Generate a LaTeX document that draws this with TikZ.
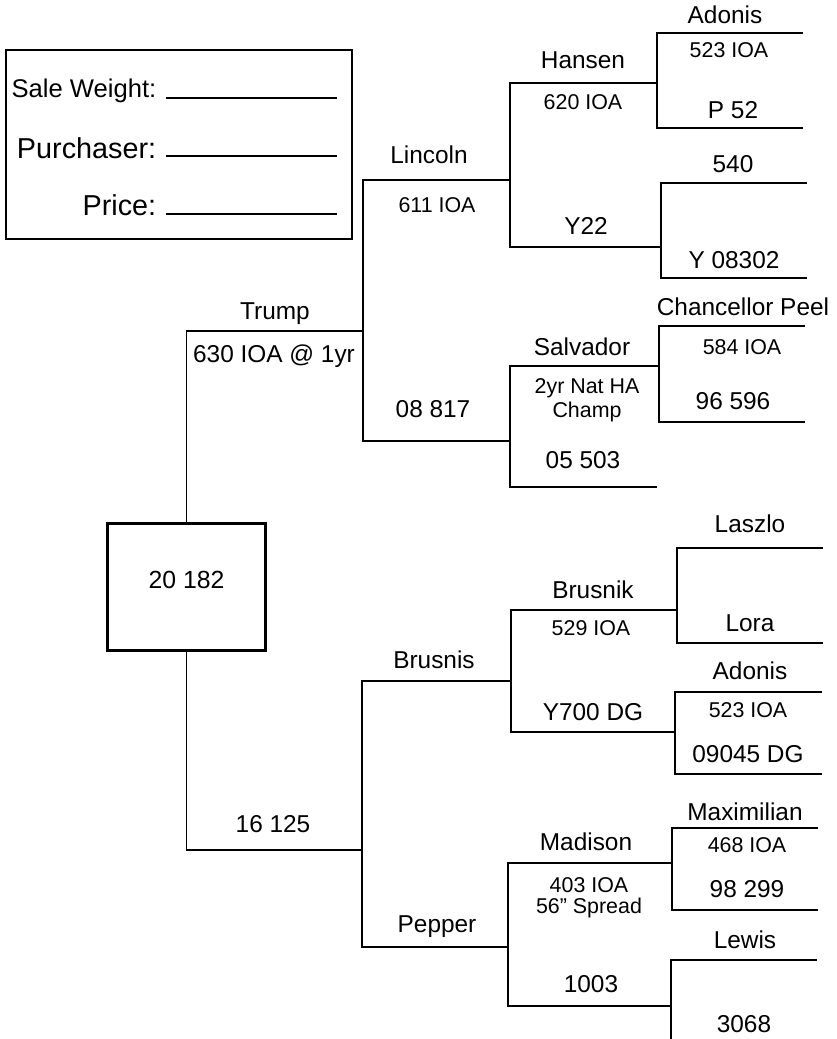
\documentclass[tikz,border=0pt]{standalone}
\usepackage{fontspec}
\setmainfont{Liberation Sans}
\usetikzlibrary{positioning}
\newcommand{\lblfont}{\fontsize{12.2}{14}\selectfont}
\newcommand{\notefont}{\fontsize{10.7}{11.5}\selectfont}

\begin{document}
\begin{tikzpicture}[x=0.5pt,y=-0.5pt,line width=0.75pt,
  lbl/.style={font=\lblfont,anchor=base,inner sep=0pt},
  note/.style={font=\notefont,anchor=base,inner sep=0pt,align=center},
  form/.style={anchor=base east,inner sep=0pt}]
\useasboundingbox (0,0) rectangle (836,1039);

% sale form
\draw[line width=1pt] (6,50) rectangle (352,239);
\node[form,font=\fontsize{12.8}{14}\selectfont] (weight) at (157,97) {Sale Weight:};
\node[form,font=\fontsize{14.4}{16}\selectfont] (buyer) at (157,158) {Purchaser:};
\node[form,font=\fontsize{14.4}{16}\selectfont] (price) at (157,215) {Price:};
\foreach \y in {98,156,214}
  \draw (166,\y) -- (337,\y);

% the animal
\node[draw,line width=1.5pt,minimum width=79pt,minimum height=63.5pt,inner sep=0pt,
  font=\fontsize{12.4}{14}\selectfont,text height=8.7pt,text depth=7pt] (root) at (186.5,587) {20 182};

% line ends
\coordinate (trumpR) at (363,331);
\coordinate (damR) at (362,850);
\coordinate (lincolnR) at (510,180);
\coordinate (steR) at (510,441);
\coordinate (brusnisR) at (511,681);
\coordinate (pepperR) at (508,947);
\coordinate (hansenR) at (657,83);
\coordinate (yR) at (661,247);
\coordinate (salvadorR) at (659,366);
\coordinate (fiveR) at (657,487);
\coordinate (brusnikR) at (677,610);
\coordinate (ydgR) at (675,732);
\coordinate (madisonR) at (672,863);
\coordinate (tenR) at (671,1006);
\coordinate (adonisR) at (803,33);
\coordinate (pR) at (803,128);
\coordinate (fortyR) at (807,183);
\coordinate (yyR) at (807,278);
\coordinate (peelR) at (805,326);
\coordinate (ninetyR) at (805,422);
\coordinate (laszloR) at (823,548);
\coordinate (loraR) at (823,643);
\coordinate (adonisbR) at (822,692);
\coordinate (dgR) at (822,774);
\coordinate (maxR) at (818,828);
\coordinate (ninetyeightR) at (818,910);
\coordinate (lewisR) at (817,960);
\coordinate (cut) at (671,1039);

% brackets
\draw (root.north) |- (trumpR);
\draw (root.south) |- (damR);
\draw (lincolnR) -| (trumpR) |- (steR);
\draw (brusnisR) -| (damR) |- (pepperR);
\draw (hansenR) -| (lincolnR) |- (yR);
\draw (salvadorR) -| (steR) |- (fiveR);
\draw (brusnikR) -| (brusnisR) |- (ydgR);
\draw (madisonR) -| (pepperR) |- (tenR);
\draw (adonisR) -| (hansenR) |- (pR);
\draw (fortyR) -| (yR) |- (yyR);
\draw (peelR) -| (salvadorR) |- (ninetyR);
\draw (laszloR) -| (brusnikR) |- (loraR);
\draw (adonisbR) -| (ydgR) |- (dgR);
\draw (maxR) -| (madisonR) |- (ninetyeightR);
\draw (lewisR) -| (tenR) -- (cut);

% sire side
\node[lbl] (trump) at (275,319) {Trump};
\node[lbl] (trumpioa) at (274,362) {630 IOA @ 1yr};
\node[lbl] (lincoln) at (429,163) {Lincoln};
\node[note] (lincolnioa) at (437,212) {611 IOA};
\node[lbl] (ste) at (433,417) {08 817};
\node[lbl] (hansen) at (583,68) {Hansen};
\node[note] (hansenioa) at (583,109) {620 IOA};
\node[lbl] (y) at (586,234) {Y22};
\node[lbl] (adonis) at (725,23) {Adonis};
\node[note] (adonisioa) at (729,57) {523 IOA};
\node[lbl] (p) at (733,118) {P 52};
\node[lbl] (forty) at (733,172) {540};
\node[lbl] (yy) at (734,268) {Y 08302};
\node[lbl] (salvador) at (582,355) {Salvador};
\node[note] (salvadornote) at (587,417) {2yr Nat HA\\[0.5pt]Champ};
\node[lbl] (five) at (583,468) {05 503};
\node[lbl] (peel) at (743,315) {Chancellor Peel};
\node[note] (peelioa) at (742,354) {584 IOA};
\node[lbl] (ninety) at (733,409) {96 596};

% dam side
\node[lbl] (dam) at (273,832) {16 125};
\node[lbl] (brusnis) at (434,668) {Brusnis};
\node[lbl] (brusnik) at (593,598) {Brusnik};
\node[note] (brusnikioa) at (591,635) {529 IOA};
\node[lbl] (ydg) at (593,720) {Y700 DG};
\node[lbl] (laszlo) at (750,532) {Laszlo};
\node[lbl] (lora) at (750,631) {Lora};
\node[lbl] (adonisb) at (750,679) {Adonis};
\node[note] (adonisbioa) at (748,717) {523 IOA};
\node[lbl] (dg) at (748,762) {09045 DG};
\node[lbl] (pepper) at (437,932) {Pepper};
\node[lbl] (madison) at (586,850) {Madison};
\node[note] (madisonnote) at (589,913) {403 IOA\\[-1pt]56” Spread};
\node[lbl] (ten) at (591,992) {1003};
\node[lbl] (max) at (745,820) {Maximilian};
\node[note] (maxioa) at (747,852) {468 IOA};
\node[lbl] (ninetyeight) at (747,897) {98 299};
\node[lbl] (lewis) at (745,948) {Lewis};
\node[lbl] (three) at (744,1032) {3068};
\end{tikzpicture}
\end{document}
